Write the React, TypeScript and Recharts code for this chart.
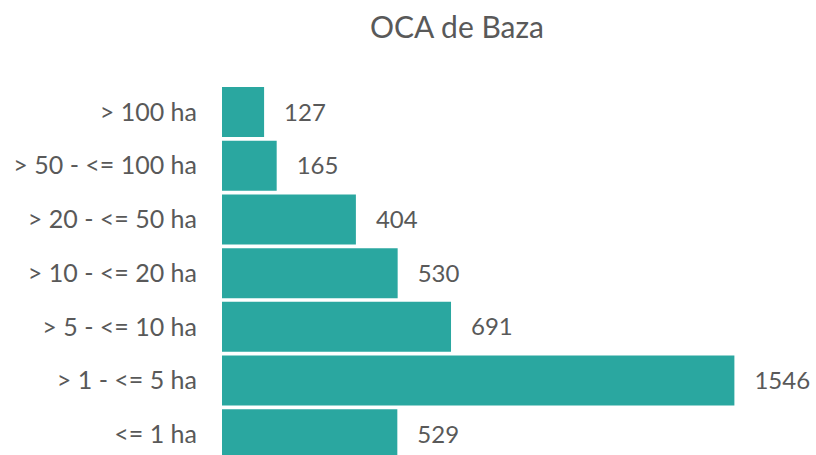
import React from 'react';
import { BarChart, Bar, XAxis, YAxis, LabelList } from 'recharts';

const categories = [
  '> 100 ha',
  '> 50 - <= 100 ha',
  '> 20 - <= 50 ha',
  '> 10 - <= 20 ha',
  '> 5 - <= 10 ha',
  '> 1 - <= 5 ha',
  '<= 1 ha',
];
const explotaciones = [127, 165, 404, 530, 691, 1546, 529];

const chartData = categories.map((name, i) => ({ name, value: explotaciones[i] }));

const FONT = 'Lato, "Open Sans", sans-serif';

export default function App() {
  return (
    <div style={{ position: 'absolute', left: 0, top: 0, width: 816, height: 455, overflow: 'hidden', background: '#fff', fontFamily: FONT }}>
      <div style={{ position: 'absolute', left: 257, width: 400, top: 8, textAlign: 'center', fontSize: 30, color: '#595959' }}>
        OCA de Baza
      </div>
      <BarChart
        width={816}
        height={470}
        data={chartData}
        layout="vertical"
        margin={{ top: 85, right: 14, bottom: 9, left: 0 }}
        barCategoryGap={2}
      >
        <XAxis type="number" domain={[0, 1750]} hide />
        <YAxis
          type="category"
          dataKey="name"
          width={222}
          axisLine={false}
          tickLine={false}
          tickSize={0}
          tickMargin={25}
          interval={0}
          tick={{ fontSize: 25, fill: '#595959', fontFamily: FONT }}
        />
        <Bar dataKey="value" fill="#2AA7A0" isAnimationActive={false}>
          <LabelList dataKey="value" position="right" offset={20} fill="#595959" fontSize={24} fontFamily={FONT} />
        </Bar>
      </BarChart>
    </div>
  );
}
